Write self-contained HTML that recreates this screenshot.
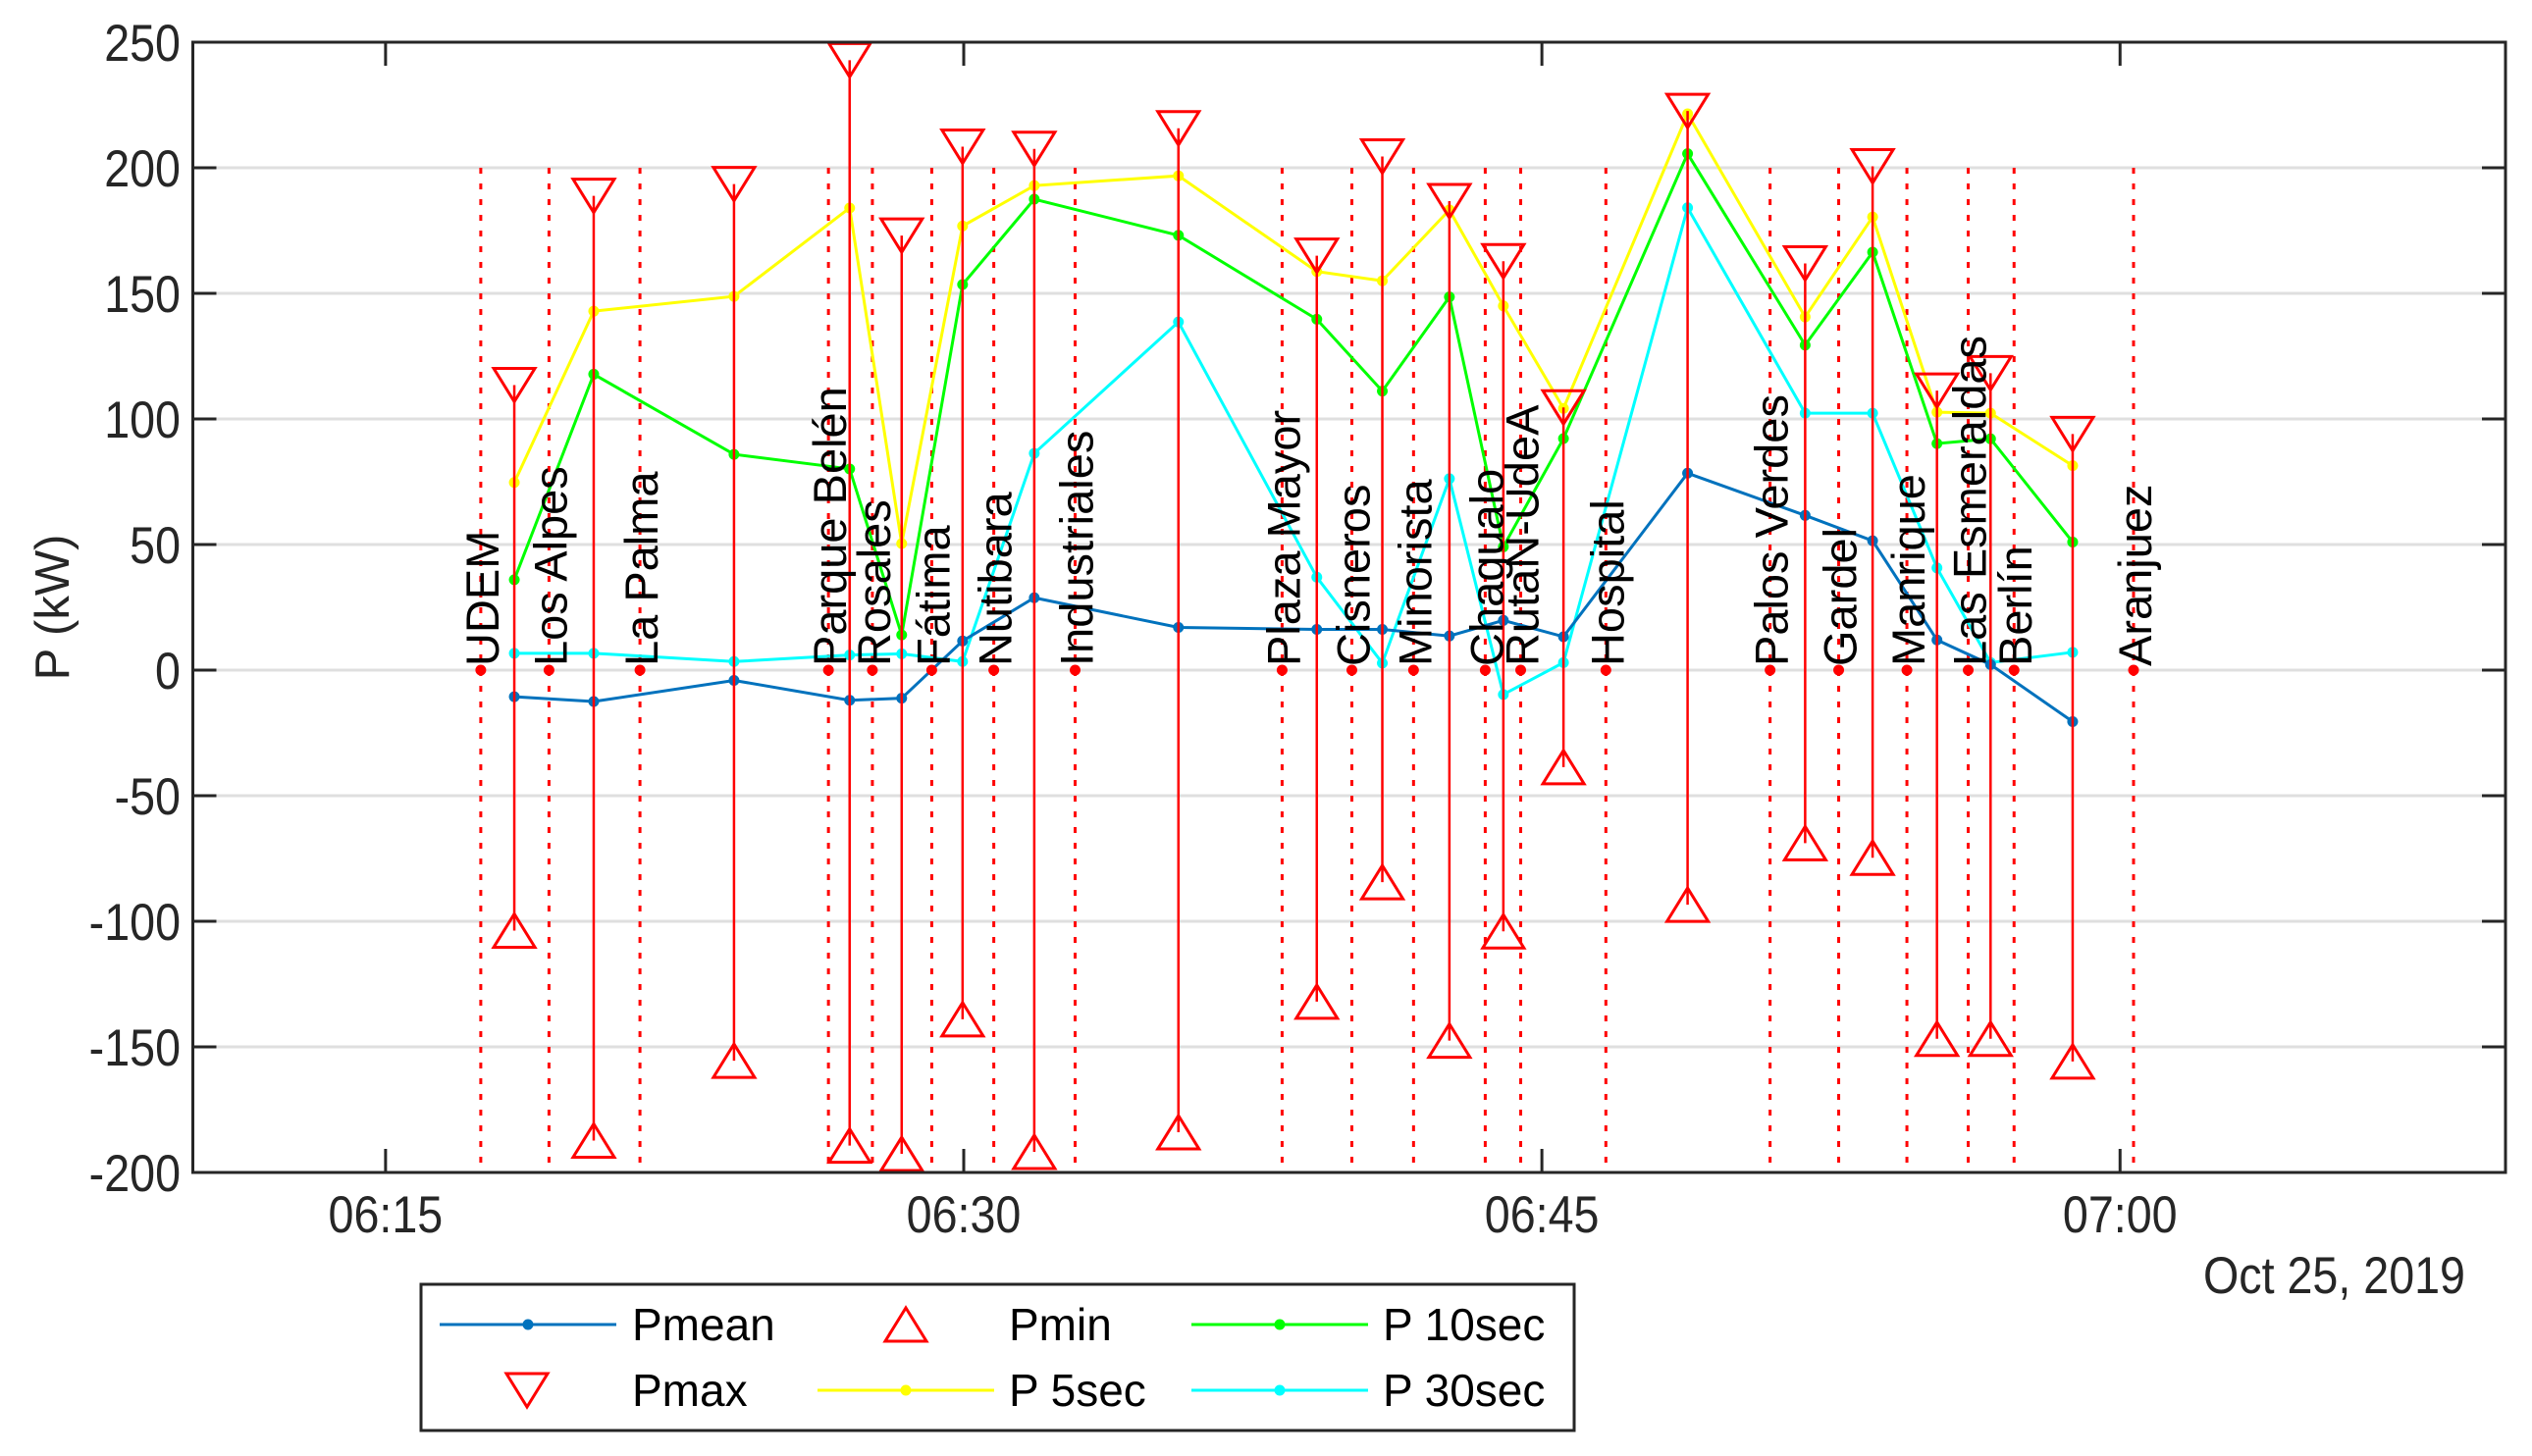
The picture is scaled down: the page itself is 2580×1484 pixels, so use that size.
<!DOCTYPE html>
<html><head><meta charset="utf-8"><style>
html,body{margin:0;padding:0;background:#fff;}
svg{display:block;font-family:"Liberation Sans",Arial,sans-serif;}
</style></head><body>
<svg id="chart" width="2580" height="1484" viewBox="0 0 2580 1484" xmlns="http://www.w3.org/2000/svg">
<defs><clipPath id="clip"><rect x="196" y="43" width="2357" height="1152"/></clipPath></defs>
<rect width="2580" height="1484" fill="#fff"/>
<g id="grid"></g>
<g id="plot" clip-path="url(#clip)"></g>
<g id="axes"></g>
<g id="legend"></g>
</svg>
<script>
// minutes after 06:00
const stationNames = ["UDEM","Los Alpes","La Palma","Parque Belén","Rosales","Fátima","Nutibara","Industriales","Plaza Mayor","Cisneros","Minorista","Chagualo","RutaN-UdeA","Hospital","Palos Verdes","Gardel","Manrique","Las Esmeraldas","Berlín","Aranjuez"];
const stationTimes = [17.47,19.24,21.6,26.49,27.63,29.17,30.78,32.89,38.26,40.07,41.67,43.53,44.45,46.66,50.92,52.7,54.47,56.06,57.25,60.35];
const sampleTimes = [18.34,20.4,24.04,27.04,28.39,29.97,31.83,35.57,39.16,40.86,42.6,44.0,45.56,48.78,51.83,53.58,55.25,56.64,58.77];
const pMean = [-10.6,-12.5,-4.1,-12,-11.2,11.6,28.8,17,16.2,16.2,13.6,19.8,13.3,78.4,61.6,51.5,12,2.2,-20.5];
const pMax = [113.5,188.8,193.5,242.8,173,208.4,207.5,215.7,165,204.5,186.7,162.8,104.6,222.6,161.9,200.6,111.3,118.2,94];
const pMin = [-103.7,-187.3,-155.5,-189.3,-192.6,-139,-191.8,-184,-132,-84.4,-147.5,-104,-38.6,-93.4,-68.9,-74.7,-146.8,-146.8,-155.8];
const p5 = [74.7,142.9,148.8,184,50.4,176.8,192.9,196.8,158.7,155,183.2,145,104.2,221.5,140.6,180.4,102.7,102.3,81.4];
const p10 = [36,117.8,85.9,80.1,14,153.5,187.5,173.1,139.7,111.1,148.6,49.1,92.2,205.6,129.4,166.4,90.2,92.1,51];
const p30 = [6.7,6.7,3.4,6,6.5,3.4,86.3,138.6,37,2.8,76.2,-9.7,3,184.1,102.3,102.3,40.7,3,7.1];
const yTicks = [-200,-150,-100,-50,0,50,100,150,200,250];
const xTicks = [15,30,45,60];
const xTickLabels = ["06:15","06:30","06:45","07:00"];

const L=196.5,R=2553,T=43,B=1195;
const X0=10,X1=70,Y0=-200,Y1=250;
const sx=m=>L+(m-X0)/(X1-X0)*(R-L);
const sy=v=>B-(v-Y0)/(Y1-Y0)*(B-T);
const NS="http://www.w3.org/2000/svg";
function mk(tag,attrs,parent,text){const e=document.createElementNS(NS,tag);for(const k in attrs)e.setAttribute(k,attrs[k]);if(text!==undefined)e.textContent=text;parent.appendChild(e);return e;}
const grid=document.getElementById('grid'),plot=document.getElementById('plot'),axes=document.getElementById('axes'),leg=document.getElementById('legend');

yTicks.forEach(v=>{const g=mk('line',{x1:L,x2:R,y1:sy(v),y2:sy(v),stroke:'#dfdfdf','stroke-width':3},grid);

});

stationTimes.forEach(t=>{const l=mk('line',{x1:sx(t),x2:sx(t),y1:sy(200),y2:sy(-200),stroke:'#ff0000','stroke-width':3,'stroke-dasharray':'6 10'},plot);

});

function series(vals,color,name){
 const pts=vals.map((v,i)=>sx(sampleTimes[i])+','+sy(v)).join(' ');
 const pl=mk('polyline',{points:pts,fill:'none',stroke:color,'stroke-width':3},plot);
 
 
 vals.forEach((v,i)=>{const c=mk('circle',{cx:sx(sampleTimes[i]),cy:sy(v),r:5.5,fill:color},plot);
 
 });
}
series(p30,'#00ffff','p-30sec');
series(p10,'#00ff00','p-10sec');
series(p5,'#ffff00','p-5sec');
series(pMean,'#0072bd','pmean');

function tri(cx,cy,down,parent){const w=21,h=17;
 const p=down?`${cx-w},${cy-h} ${cx+w},${cy-h} ${cx},${cy+h}`:`${cx-w},${cy+h} ${cx+w},${cy+h} ${cx},${cy-h}`;
 return mk('polygon',{points:p,fill:'none',stroke:'#ff0000','stroke-width':3},parent);}
sampleTimes.forEach((t,i)=>{
 const s=mk('line',{x1:sx(t),x2:sx(t),y1:sy(pMin[i]),y2:sy(pMax[i]),stroke:'#ff0000','stroke-width':2.5},plot);
 
 
 const a=tri(sx(t),sy(pMax[i]),true,plot);
 
 
 const b=tri(sx(t),sy(pMin[i]),false,plot);
 
 
});
stationTimes.forEach((t,i)=>{
 const d=mk('circle',{cx:sx(t),cy:sy(0),r:5.5,fill:'#ff0000'},plot);
 
 
 const x=sx(t)+18,y=sy(0)-4;
 const tx=mk('text',{x:x,y:y,'font-size':47,fill:'#000',transform:`rotate(-90 ${x} ${y})`},plot,stationNames[i]);
 
 
});

const box=mk('rect',{x:L,y:T,width:R-L,height:B-T,fill:'none',stroke:'#262626','stroke-width':3},axes);


function ctext(x,y,str,anchor,name){
 const t=mk('text',{x:0,y:0,'font-size':53,'text-anchor':anchor,fill:'#262626',transform:`translate(${x} ${y}) scale(0.88 1)`},axes,str);
 
 
 return t;}
yTicks.forEach(v=>{
 mk('line',{x1:L,x2:L+24,y1:sy(v),y2:sy(v),stroke:'#262626','stroke-width':3},axes);
 mk('line',{x1:R-24,x2:R,y1:sy(v),y2:sy(v),stroke:'#262626','stroke-width':3},axes);
 ctext(184,sy(v)+19,String(v),'end','y-tick-label');
});
xTicks.forEach((m,i)=>{
 mk('line',{x1:sx(m),x2:sx(m),y1:T,y2:T+24,stroke:'#262626','stroke-width':3},axes);
 mk('line',{x1:sx(m),x2:sx(m),y1:B-24,y2:B,stroke:'#262626','stroke-width':3},axes);
 ctext(sx(m),1256,xTickLabels[i],'middle','x-tick-label');
});
ctext(2512,1318,'Oct 25, 2019','end','date-label');
const yl=mk('text',{x:0,y:0,'font-size':49,'text-anchor':'middle',fill:'#262626',transform:'translate(70 619) rotate(-90)'},axes,'P (kW)');



const lb=mk('rect',{x:429,y:1309,width:1175,height:149,fill:'#fff',stroke:'#262626','stroke-width':3},leg);


function legLine(x1,x2,y,color,label,tx,name){
 const g=mk('g',{},leg);
 
 
 if(color){mk('line',{x1:x1,x2:x2,y1:y,y2:y,stroke:color,'stroke-width':3},g);
 mk('circle',{cx:(x1+x2)/2,cy:y,r:5.5,fill:color},g);}
 mk('text',{x:tx,y:y+16,'font-size':46,fill:'#000'},g,label);
 return g;}
legLine(448,628,1350,'#0072bd','Pmean',644,'legend-pmean');
const g2=legLine(0,0,1350,null,'Pmin',1028,'legend-pmin'); tri(923,1350,false,g2);
legLine(1214,1394,1350,'#00ff00','P 10sec',1409,'legend-p10sec');
const g4=legLine(0,0,1417,null,'Pmax',644,'legend-pmax'); tri(537,1417,true,g4);
legLine(833,1013,1417,'#ffff00','P 5sec',1028,'legend-p5sec');
legLine(1214,1394,1417,'#00ffff','P 30sec',1409,'legend-p30sec');
</script>
</body></html>
